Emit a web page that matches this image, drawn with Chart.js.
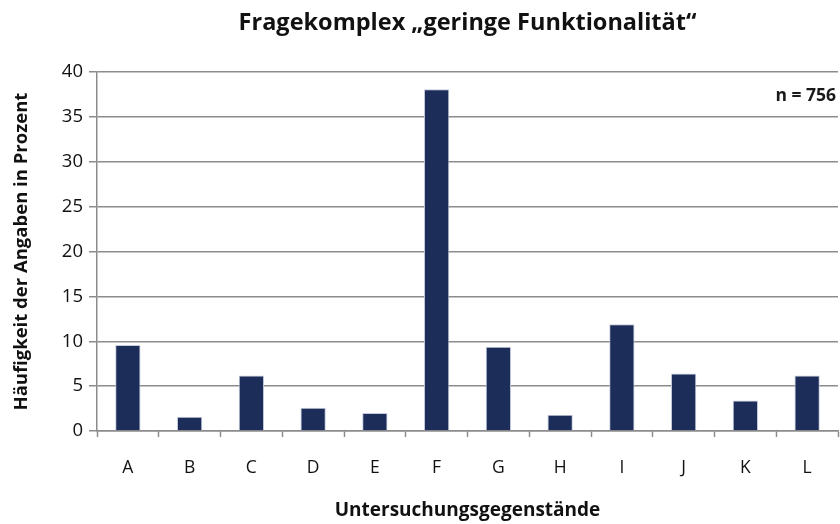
<!DOCTYPE html>
<html>
<head>
<meta charset="utf-8">
<script src="https://cdn.jsdelivr.net/npm/chart.js@4"></script>
<style>
  html, body { margin: 0; padding: 0; background: #fff; }
  #wrap { width: 840px; height: 524px; }
</style>
</head>
<body>
<div id="wrap"><canvas id="funktionChart" width="840" height="524"></canvas></div>
<script>
const categories = ['A', 'B', 'C', 'D', 'E', 'F', 'G', 'H', 'I', 'J', 'K', 'L'];
const percentages = [9.6, 1.6, 6.2, 2.6, 2.0, 38.1, 9.4, 1.8, 11.9, 6.4, 3.4, 6.2];
const yTicks = [0, 5, 10, 15, 20, 25, 30, 35, 40];
const sampleLabel = 'n = 756';

const FONT = "'Open Sans', 'Liberation Sans', sans-serif";
const GRID = '#8c8c8c';

// sample size note in the upper right corner of the plot
const sampleNote = {
  id: 'sampleNote',
  afterDraw(chart) {
    const { ctx, chartArea } = chart;
    ctx.save();
    ctx.font = `bold 17.5px ${FONT}`;
    ctx.fillStyle = '#1a1a1a';
    ctx.textAlign = 'right';
    ctx.textBaseline = 'middle';
    ctx.fillText(sampleLabel, chartArea.right - 2, chartArea.top + 24);
    ctx.restore();
  }
};

new Chart(document.getElementById('funktionChart'), {
  type: 'bar',
  data: {
    labels: categories,
    datasets: [{
      data: percentages,
      backgroundColor: '#1c2d5a',
      borderColor: '#c5cbdc',
      borderWidth: 1,
      categoryPercentage: 1,
      barPercentage: 0.41
    }]
  },
  options: {
    responsive: false,
    animation: false,
    layout: { padding: { left: 0, right: 2, top: 0, bottom: 0 } },
    plugins: {
      legend: { display: false },
      tooltip: { enabled: false },
      title: {
        display: true,
        text: 'Fragekomplex „geringe Funktionalität“',
        fullSize: false,
        color: '#111',
        font: { family: FONT, size: 23.5, weight: 'bold' },
        padding: { top: 9, bottom: 35 }
      }
    },
    scales: {
      x: {
        grid: {
          offset: true,
          drawOnChartArea: false,
          drawTicks: true,
          tickLength: 6,
          tickColor: GRID,
          tickWidth: 1.5
        },
        border: { display: true, color: GRID, width: 1.5 },
        ticks: {
          color: '#111',
          padding: 21,
          font: { family: FONT, size: 17.5 }
        },
        title: {
          display: true,
          text: 'Untersuchungsgegenstände',
          color: '#111',
          font: { family: FONT, size: 19, weight: 'bold' },
          padding: { top: 0, bottom: 2 }
        },
        afterFit(scale) { scale.height = 93; }
      },
      y: {
        min: 0,
        max: 40,
        afterBuildTicks(scale) { scale.ticks = yTicks.map(v => ({ value: v })); },
        grid: {
          color: GRID,
          lineWidth: 1.5,
          drawTicks: true,
          tickLength: 8,
          tickColor: GRID
        },
        border: { display: true, color: GRID, width: 1.5 },
        ticks: {
          color: '#111',
          padding: 6,
          font: { family: FONT, size: 18.5 }
        },
        title: {
          display: true,
          text: 'Häufigkeit der Angaben in Prozent',
          color: '#111',
          font: { family: FONT, size: 18.5, weight: 'bold' },
          padding: { top: 11, bottom: 0 }
        },
        afterFit(scale) { scale.width = 97; }
      }
    }
  },
  plugins: [sampleNote]
});
</script>
</body>
</html>
